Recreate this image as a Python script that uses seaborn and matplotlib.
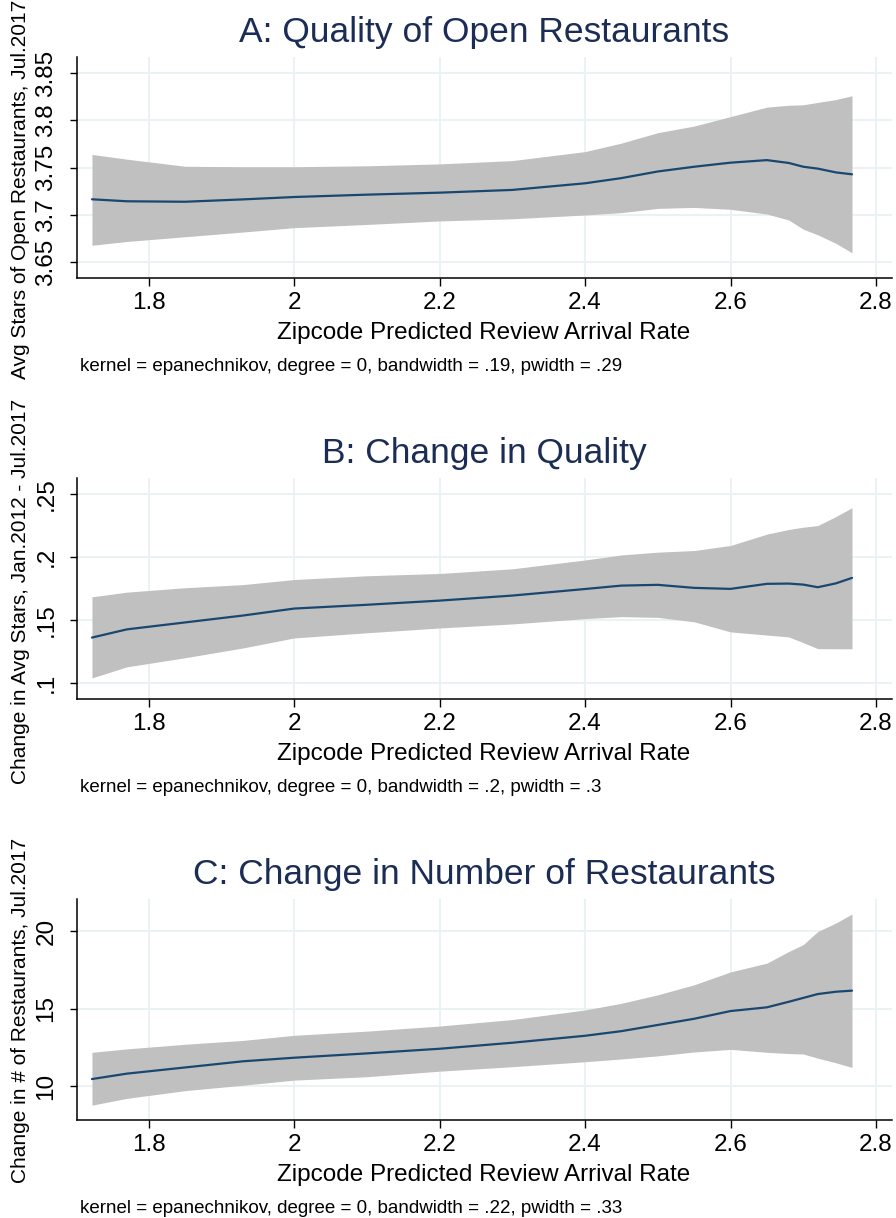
import numpy as np
import pandas as pd
import matplotlib
matplotlib.use("Agg")
import matplotlib.pyplot as plt
import seaborn as sns

# Evaluation grid of the predicted review arrival rate
rate = [1.722, 1.77, 1.85, 1.93, 2.0, 2.1, 2.2, 2.3, 2.4, 2.45, 2.5, 2.55,
        2.6, 2.65, 2.68, 2.7, 2.72, 2.745, 2.767]

# Panel A: average stars of open restaurants (local polynomial fit + 95% CI)
stars_fit = [3.7166, 3.7145, 3.714, 3.7165, 3.719, 3.7215, 3.7236, 3.7265, 3.7335,
             3.739, 3.746, 3.751, 3.7553, 3.758, 3.755, 3.751, 3.749, 3.745, 3.743]
stars_hi = [3.764, 3.759, 3.7515, 3.751, 3.751, 3.752, 3.754, 3.7575, 3.767,
            3.776, 3.787, 3.794, 3.804, 3.814, 3.816, 3.8165, 3.819, 3.822, 3.826]
stars_lo = [3.668, 3.672, 3.677, 3.682, 3.6866, 3.690, 3.6937, 3.696, 3.700,
            3.7025, 3.707, 3.708, 3.706, 3.701, 3.6947, 3.685, 3.679, 3.670, 3.660]

# Panel B: change in average stars
dstars_fit = [0.136, 0.1425, 0.148, 0.1535, 0.159, 0.162, 0.1653, 0.1693, 0.1745,
              0.1772, 0.1778, 0.1754, 0.1746, 0.1786, 0.1788, 0.178, 0.1759, 0.179, 0.1833]
dstars_hi = [0.1683, 0.172, 0.1755, 0.178, 0.182, 0.185, 0.1868, 0.1905, 0.1975,
             0.2015, 0.2037, 0.205, 0.209, 0.218, 0.2217, 0.2235, 0.2248, 0.232, 0.2389]
dstars_lo = [0.104, 0.1128, 0.120, 0.1278, 0.1357, 0.1398, 0.1436, 0.1468, 0.151,
             0.1526, 0.152, 0.1485, 0.1405, 0.138, 0.1365, 0.132, 0.1272, 0.1271, 0.1271]

# Panel C: change in number of restaurants
dcount_fit = [10.45, 10.8, 11.2, 11.6, 11.83, 12.11, 12.41, 12.8, 13.25, 13.55,
              13.95, 14.35, 14.85, 15.09, 15.45, 15.7, 15.95, 16.1, 16.17]
dcount_hi = [12.18, 12.4, 12.7, 12.95, 13.28, 13.55, 13.88, 14.3, 14.92, 15.35,
             15.9, 16.55, 17.38, 17.95, 18.7, 19.15, 20.0, 20.55, 21.13]
dcount_lo = [8.76, 9.2, 9.7, 10.05, 10.38, 10.6, 10.96, 11.25, 11.57, 11.75,
             11.95, 12.2, 12.37, 12.18, 12.1, 12.07, 11.8, 11.5, 11.2]

x_ticks = [1.8, 2.0, 2.2, 2.4, 2.6, 2.8]
x_tick_labels = ["1.8", "2", "2.2", "2.4", "2.6", "2.8"]

titles = ["A: Quality of Open Restaurants", "B: Change in Quality",
          "C: Change in Number of Restaurants"]
ylabels = ["Avg Stars of Open Restaurants, Jul.2017",
           "Change in Avg Stars, Jan.2012 - Jul.2017",
           "Change in # of Restaurants, Jul.2017"]
xlabel = "Zipcode Predicted Review Arrival Rate"
notes = ["kernel = epanechnikov, degree = 0, bandwidth = .19, pwidth = .29",
         "kernel = epanechnikov, degree = 0, bandwidth = .2, pwidth = .3",
         "kernel = epanechnikov, degree = 0, bandwidth = .22, pwidth = .33"]

y_ticks = [[3.65, 3.7, 3.75, 3.8, 3.85], [0.1, 0.15, 0.2, 0.25], [10, 15, 20]]
y_tick_labels = [["3.65", "3.7", "3.75", "3.8", "3.85"],
                 [".1", ".15", ".2", ".25"], ["10", "15", "20"]]
y_limits = [(3.6334, 3.867), (0.0873, 0.2625), (7.80, 22.1)]

series = [(stars_fit, stars_lo, stars_hi),
          (dstars_fit, dstars_lo, dstars_hi),
          (dcount_fit, dcount_lo, dcount_hi)]

sns.set_theme(style="white")
plt.rcParams["font.family"] = ["Liberation Sans", "DejaVu Sans"]

W, H = 896, 1218
fig = plt.figure(figsize=(W / 100, H / 100), dpi=100)
fig.patch.set_facecolor("white")

LINE = "#1a476f"
BAND = "#c0c0c0"
GRID = "#e9f1f3"
NAVY = "#1c2d55"

ax_left, ax_right = 76.7, 892.0
panel_tops = [57, 478, 899]
ax_h = 221
ylabel_centers = [189, 591, 1010]

for i in range(3):
    top = panel_tops[i]
    ax = fig.add_axes([ax_left / W, 1 - (top + ax_h) / H,
                       (ax_right - ax_left) / W, ax_h / H])
    fit, lo, hi = series[i]
    df = pd.DataFrame({"rate": rate, "fit": fit, "lo": lo, "hi": hi})

    ax.fill_between(df["rate"], df["lo"], df["hi"], color=BAND, linewidth=0, zorder=2)
    sns.lineplot(data=df, x="rate", y="fit", ax=ax, color=LINE, linewidth=1.6,
                 zorder=3, errorbar=None)

    ax.set_xlim(1.701, 2.822)
    ax.set_ylim(*y_limits[i])
    ax.set_xticks(x_ticks)
    ax.set_xticklabels(x_tick_labels)
    ax.set_yticks(y_ticks[i])
    ax.set_yticklabels(y_tick_labels[i], rotation=90, va="center")
    ax.set_xlabel("")
    ax.set_ylabel("")

    ax.grid(True, color=GRID, linewidth=1.3, zorder=0)
    ax.set_axisbelow(True)
    for side in ["top", "right"]:
        ax.spines[side].set_visible(False)
    for side in ["left", "bottom"]:
        ax.spines[side].set_color("black")
        ax.spines[side].set_linewidth(1.1)
    ax.tick_params(axis="x", direction="out", length=6, width=1.0, pad=4,
                   labelsize=17.5, colors="black", bottom=True)
    ax.tick_params(axis="y", direction="out", length=5, width=1.0, pad=9,
                   labelsize=17.5, colors="black", left=True)

    # Panel title, axis title and smoothing note
    fig.text(484 / W, 1 - (top - 15) / H, titles[i], ha="center", va="baseline",
             fontsize=25.5, color=NAVY)
    fig.text(484 / W, 1 - (top + 282) / H, xlabel, ha="center", va="baseline",
             fontsize=17.5, color="black")
    fig.text(80 / W, 1 - (top + 314) / H, notes[i], ha="left", va="baseline",
             fontsize=13.5, color="black")
    fig.text(21 / W, 1 - ylabel_centers[i] / H, ylabels[i], ha="center", va="center",
             rotation=90, fontsize=15, color="black")

fig.savefig("out.png", dpi=100, facecolor="white")
